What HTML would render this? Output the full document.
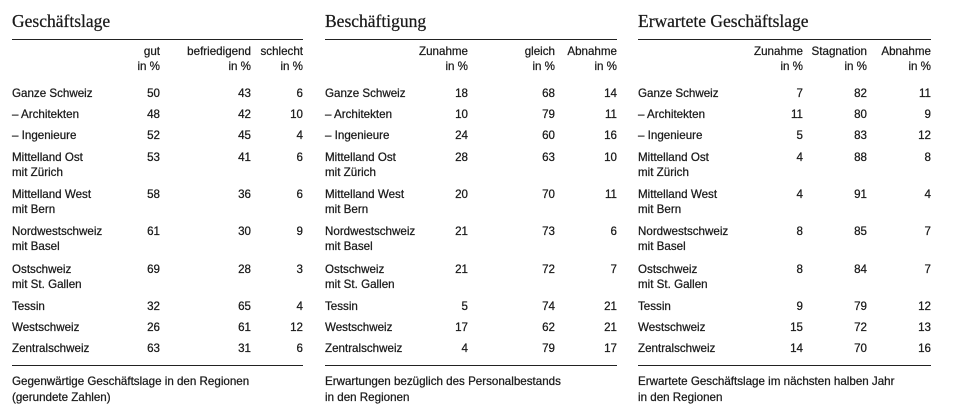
<!DOCTYPE html>
<html><head><meta charset="utf-8"><style>
body{margin:0;width:961px;height:415px;background:#fff;position:relative;overflow:hidden;font-family:"Liberation Sans",sans-serif;font-size:11.6px;color:#1a1a1a;-webkit-text-stroke:0.25px #1a1a1a}
.p{position:absolute;top:0;height:415px}
.t{position:absolute;top:11px;left:0;font-family:"Liberation Serif",serif;font-size:17.5px;white-space:nowrap}
.r{position:absolute;left:0;right:0;height:1px;background:#222}
.row{position:absolute;left:0;right:0;line-height:15px;height:15px}
.l{position:absolute;left:0;white-space:nowrap}
.n{position:absolute;text-align:right;white-space:nowrap}
.h{position:absolute;top:44px;line-height:15px;text-align:right;white-space:nowrap}
.f{position:absolute;top:374px;left:0;line-height:16px;white-space:nowrap}
</style></head><body>

<div class="p" style="left:12px;width:291px">
<div class="t">Geschäftslage</div>
<div class="r" style="top:39px"></div>
<div class="h" style="right:143px">gut<br>in %</div>
<div class="h" style="right:52px">befriedigend<br>in %</div>
<div class="h" style="right:0">schlecht<br>in %</div>
<div class="row" style="top:86px"><span class="l">Ganze Schweiz</span><span class="n" style="right:143px">50</span><span class="n" style="right:52px">43</span><span class="n" style="right:0">6</span></div>
<div class="row" style="top:107px"><span class="l">– Architekten</span><span class="n" style="right:143px">48</span><span class="n" style="right:52px">42</span><span class="n" style="right:0">10</span></div>
<div class="row" style="top:128px"><span class="l">– Ingenieure</span><span class="n" style="right:143px">52</span><span class="n" style="right:52px">45</span><span class="n" style="right:0">4</span></div>
<div class="row" style="top:150px"><span class="l">Mittelland Ost<br>mit Zürich</span><span class="n" style="right:143px">53</span><span class="n" style="right:52px">41</span><span class="n" style="right:0">6</span></div>
<div class="row" style="top:187px"><span class="l">Mittelland West<br>mit Bern</span><span class="n" style="right:143px">58</span><span class="n" style="right:52px">36</span><span class="n" style="right:0">6</span></div>
<div class="row" style="top:224px"><span class="l">Nordwestschweiz<br>mit Basel</span><span class="n" style="right:143px">61</span><span class="n" style="right:52px">30</span><span class="n" style="right:0">9</span></div>
<div class="row" style="top:262px"><span class="l">Ostschweiz<br>mit St. Gallen</span><span class="n" style="right:143px">69</span><span class="n" style="right:52px">28</span><span class="n" style="right:0">3</span></div>
<div class="row" style="top:299px"><span class="l">Tessin</span><span class="n" style="right:143px">32</span><span class="n" style="right:52px">65</span><span class="n" style="right:0">4</span></div>
<div class="row" style="top:320px"><span class="l">Westschweiz</span><span class="n" style="right:143px">26</span><span class="n" style="right:52px">61</span><span class="n" style="right:0">12</span></div>
<div class="row" style="top:341px"><span class="l">Zentralschweiz</span><span class="n" style="right:143px">63</span><span class="n" style="right:52px">31</span><span class="n" style="right:0">6</span></div>
<div class="r" style="top:365px"></div>
<div class="f">Gegenwärtige Geschäftslage in den Regionen<br>(gerundete Zahlen)</div>
</div>

<div class="p" style="left:325px;width:292px">
<div class="t">Beschäftigung</div>
<div class="r" style="top:39px"></div>
<div class="h" style="right:149px">Zunahme<br>in %</div>
<div class="h" style="right:62px">gleich<br>in %</div>
<div class="h" style="right:0">Abnahme<br>in %</div>
<div class="row" style="top:86px"><span class="l">Ganze Schweiz</span><span class="n" style="right:149px">18</span><span class="n" style="right:62px">68</span><span class="n" style="right:0">14</span></div>
<div class="row" style="top:107px"><span class="l">– Architekten</span><span class="n" style="right:149px">10</span><span class="n" style="right:62px">79</span><span class="n" style="right:0">11</span></div>
<div class="row" style="top:128px"><span class="l">– Ingenieure</span><span class="n" style="right:149px">24</span><span class="n" style="right:62px">60</span><span class="n" style="right:0">16</span></div>
<div class="row" style="top:150px"><span class="l">Mittelland Ost<br>mit Zürich</span><span class="n" style="right:149px">28</span><span class="n" style="right:62px">63</span><span class="n" style="right:0">10</span></div>
<div class="row" style="top:187px"><span class="l">Mittelland West<br>mit Bern</span><span class="n" style="right:149px">20</span><span class="n" style="right:62px">70</span><span class="n" style="right:0">11</span></div>
<div class="row" style="top:224px"><span class="l">Nordwestschweiz<br>mit Basel</span><span class="n" style="right:149px">21</span><span class="n" style="right:62px">73</span><span class="n" style="right:0">6</span></div>
<div class="row" style="top:262px"><span class="l">Ostschweiz<br>mit St. Gallen</span><span class="n" style="right:149px">21</span><span class="n" style="right:62px">72</span><span class="n" style="right:0">7</span></div>
<div class="row" style="top:299px"><span class="l">Tessin</span><span class="n" style="right:149px">5</span><span class="n" style="right:62px">74</span><span class="n" style="right:0">21</span></div>
<div class="row" style="top:320px"><span class="l">Westschweiz</span><span class="n" style="right:149px">17</span><span class="n" style="right:62px">62</span><span class="n" style="right:0">21</span></div>
<div class="row" style="top:341px"><span class="l">Zentralschweiz</span><span class="n" style="right:149px">4</span><span class="n" style="right:62px">79</span><span class="n" style="right:0">17</span></div>
<div class="r" style="top:365px"></div>
<div class="f">Erwartungen bezüglich des Personalbestands<br>in den Regionen</div>
</div>

<div class="p" style="left:638px;width:293px">
<div class="t">Erwartete Geschäftslage</div>
<div class="r" style="top:39px"></div>
<div class="h" style="right:128px">Zunahme<br>in %</div>
<div class="h" style="right:64px">Stagnation<br>in %</div>
<div class="h" style="right:0">Abnahme<br>in %</div>
<div class="row" style="top:86px"><span class="l">Ganze Schweiz</span><span class="n" style="right:128px">7</span><span class="n" style="right:64px">82</span><span class="n" style="right:0">11</span></div>
<div class="row" style="top:107px"><span class="l">– Architekten</span><span class="n" style="right:128px">11</span><span class="n" style="right:64px">80</span><span class="n" style="right:0">9</span></div>
<div class="row" style="top:128px"><span class="l">– Ingenieure</span><span class="n" style="right:128px">5</span><span class="n" style="right:64px">83</span><span class="n" style="right:0">12</span></div>
<div class="row" style="top:150px"><span class="l">Mittelland Ost<br>mit Zürich</span><span class="n" style="right:128px">4</span><span class="n" style="right:64px">88</span><span class="n" style="right:0">8</span></div>
<div class="row" style="top:187px"><span class="l">Mittelland West<br>mit Bern</span><span class="n" style="right:128px">4</span><span class="n" style="right:64px">91</span><span class="n" style="right:0">4</span></div>
<div class="row" style="top:224px"><span class="l">Nordwestschweiz<br>mit Basel</span><span class="n" style="right:128px">8</span><span class="n" style="right:64px">85</span><span class="n" style="right:0">7</span></div>
<div class="row" style="top:262px"><span class="l">Ostschweiz<br>mit St. Gallen</span><span class="n" style="right:128px">8</span><span class="n" style="right:64px">84</span><span class="n" style="right:0">7</span></div>
<div class="row" style="top:299px"><span class="l">Tessin</span><span class="n" style="right:128px">9</span><span class="n" style="right:64px">79</span><span class="n" style="right:0">12</span></div>
<div class="row" style="top:320px"><span class="l">Westschweiz</span><span class="n" style="right:128px">15</span><span class="n" style="right:64px">72</span><span class="n" style="right:0">13</span></div>
<div class="row" style="top:341px"><span class="l">Zentralschweiz</span><span class="n" style="right:128px">14</span><span class="n" style="right:64px">70</span><span class="n" style="right:0">16</span></div>
<div class="r" style="top:365px"></div>
<div class="f">Erwartete Geschäftslage im nächsten halben Jahr<br>in den Regionen</div>
</div>

</body></html>
